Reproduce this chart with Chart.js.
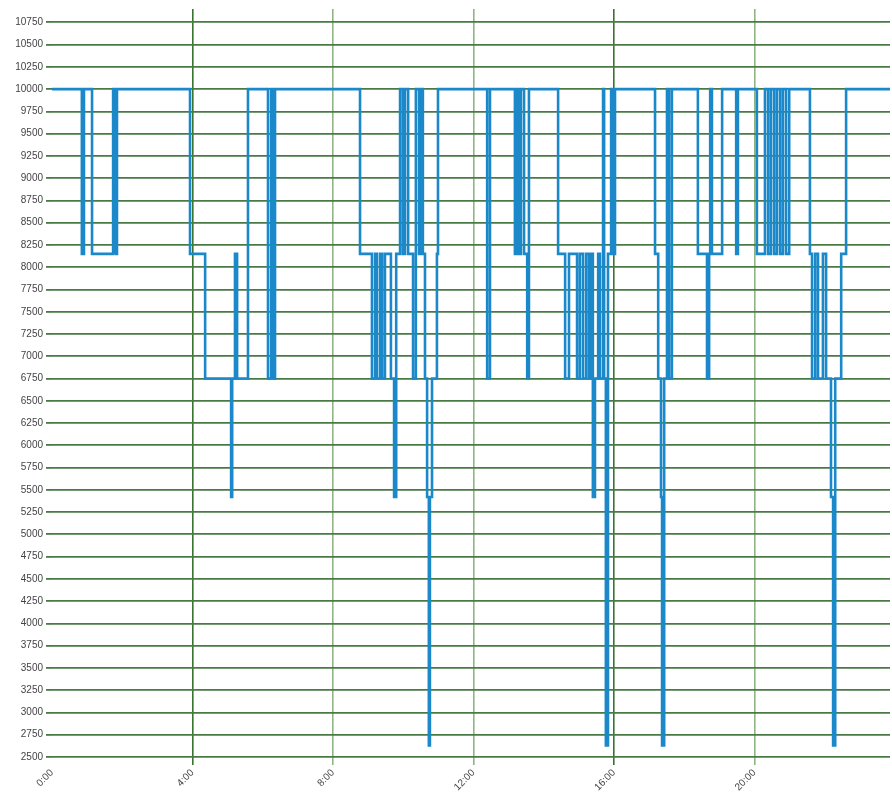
<!DOCTYPE html>
<html>
<head>
<meta charset="utf-8">
<script src="https://cdn.jsdelivr.net/npm/chart.js@4/dist/chart.umd.min.js"></script>
<style>
html,body{margin:0;padding:0;background:#fff;}
#wrap{width:892px;height:805px;}
</style>
</head>
<body>
<div id="wrap"><canvas id="c" width="892" height="805"></canvas></div>
<script>
// time of change (hours since 0:00)
const hours = [
  0, 0.85, 0.91, 1.14, 1.74, 1.77, 1.79, 1.82, 1.85, 3.93,
  4.36, 5.10, 5.13, 5.21, 5.27, 5.58, 6.15, 6.24, 6.29, 6.35,
  8.77, 9.11, 9.20, 9.25, 9.34, 9.40, 9.48, 9.65, 9.74, 9.80,
  9.91, 9.99, 10.05, 10.14, 10.28, 10.36, 10.45, 10.51, 10.56, 10.62,
  10.68, 10.73, 10.76, 10.82, 10.96, 10.99, 12.39, 12.47, 13.18, 13.24,
  13.30, 13.35, 13.44, 13.53, 13.58, 14.41, 14.61, 14.72, 14.95, 15.03,
  15.12, 15.21, 15.29, 15.35, 15.40, 15.46, 15.55, 15.60, 15.69, 15.72,
  15.77, 15.83, 15.92, 15.97, 16.03, 17.17, 17.26, 17.34, 17.37, 17.43,
  17.51, 17.57, 17.65, 18.39, 18.65, 18.71, 18.74, 18.79, 19.08, 19.48,
  19.53, 20.07, 20.30, 20.39, 20.47, 20.56, 20.64, 20.73, 20.81, 20.90,
  20.99, 21.58, 21.64, 21.73, 21.81, 21.95, 22.04, 22.18, 22.24, 22.30,
  22.47, 22.61, 23.86
];
// level held from that time on
const levels = [
  10000, 8150, 10000, 8150, 10000, 8150, 10000, 8150, 10000, 8150,
  6750, 5420, 6750, 8150, 6750, 10000, 6750, 10000, 6750, 10000,
  8150, 6750, 8150, 6750, 8150, 6750, 8150, 6750, 5420, 8150,
  10000, 8150, 10000, 8150, 6750, 10000, 8150, 10000, 8150, 6750,
  5420, 2630, 5420, 6750, 8150, 10000, 6750, 10000, 8150, 10000,
  8150, 10000, 8150, 6750, 10000, 8150, 6750, 8150, 6750, 8150,
  6750, 8150, 6750, 8150, 5420, 6750, 8150, 6750, 10000, 6750,
  2630, 8150, 10000, 8150, 10000, 8150, 6750, 5420, 2630, 6750,
  10000, 6750, 10000, 8150, 6750, 8150, 10000, 8150, 10000, 8150,
  10000, 8150, 10000, 8150, 10000, 8150, 10000, 8150, 10000, 8150,
  10000, 8150, 6750, 8150, 6750, 8150, 6750, 5420, 2630, 6750,
  8150, 10000, 10000
];
const xTicks = [0, 4, 8, 12, 16, 20];
const yTicks = [];
for (let v = 2500; v <= 10750; v += 250) yTicks.push(v);

// each level is held until the next change time
const points = [];
hours.forEach((h, i) => {
  if (i > 0) points.push({ x: h, y: levels[i - 1] });
  points.push({ x: h, y: levels[i] });
});

new Chart(document.getElementById('c'), {
  type: 'line',
  data: {
    datasets: [{
      data: points,
      borderColor: '#1a88c9',
      borderWidth: 2.6,
      pointRadius: 0,
      fill: false,
      tension: 0
    }]
  },
  options: {
    responsive: false,
    animation: false,
    layout: { padding: { top: 6, right: 2, left: 0, bottom: 0 } },
    plugins: { legend: { display: false }, tooltip: { enabled: false } },
    scales: {
      x: {
        type: 'linear',
        min: 0,
        max: 23.86,
        afterBuildTicks: s => { s.ticks = xTicks.map(v => ({ value: v })); },
        afterFit: s => { s.height = 48; },
        border: { display: false },
        grid: {
          color: ctx => {
            const v = ctx.tick ? ctx.tick.value : null;
            if (v === 0) return 'rgba(0,0,0,0)';
            return (v === 4 || v === 16) ? '#3a7331' : '#8fb585';
          },
          lineWidth: 1.6,
          tickLength: 8
        },
        ticks: {
          autoSkip: false,
          minRotation: 45,
          maxRotation: 45,
          color: '#444',
          font: { family: 'Liberation Sans', size: 10 },
          padding: 2,
          callback: v => v + ':00'
        }
      },
      y: {
        min: 2500,
        max: 10900,
        afterBuildTicks: s => { s.ticks = yTicks.map(v => ({ value: v })); },
        afterFit: s => { s.width = 52; },
        border: { display: false },
        grid: {
          color: '#4a7a43',
          lineWidth: 1.8,
          tickLength: 6
        },
        ticks: {
          color: '#444',
          font: { family: 'Liberation Sans', size: 10 },
          padding: 3,
          callback: v => String(v)
        }
      }
    }
  }
});
</script>
</body>
</html>
